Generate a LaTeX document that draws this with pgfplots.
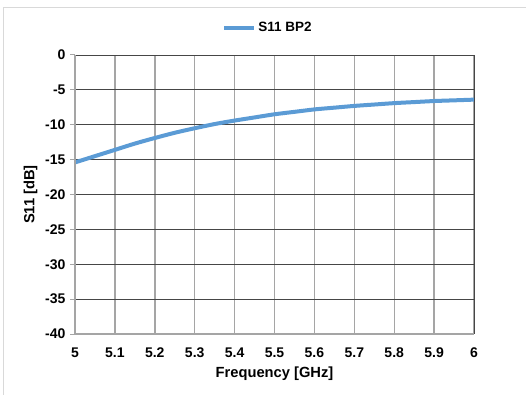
\documentclass[border=0pt]{standalone}
\usepackage{pgfplots}
\pgfplotsset{compat=1.18}
\usepackage{fontspec}
\setmainfont{Liberation Sans}[BoldFont={Liberation Sans Bold}]
\definecolor{curve}{RGB}{91,155,213}
\definecolor{vgrid}{RGB}{165,165,165}
\definecolor{hgrid}{RGB}{70,70,70}
\begin{document}
\begin{tikzpicture}[x=1pt,y=1pt]
\useasboundingbox (0,0) rectangle (526,-395);
\draw[black!15, line width=1pt] (3,-395) -- (3,-8) -- (526,-8);
\begin{axis}[
  at={(75pt,-334pt)}, anchor=south west,
  scale only axis, width=399pt, height=279pt,
  xmin=5, xmax=6, ymin=-40, ymax=0,
  xtick={5,5.1,5.2,5.3,5.4,5.5,5.6,5.7,5.8,5.9,6},
  xticklabels={5,5.1,5.2,5.3,5.4,5.5,5.6,5.7,5.8,5.9,6},
  ytick={-40,-35,-30,-25,-20,-15,-10,-5,0},
  yticklabels={-40,-35,-30,-25,-20,-15,-10,-5,0},
  grid=major,
  x grid style={vgrid, line width=1.4pt},
  y grid style={hgrid, line width=0.8pt},
  axis line style={draw=none},
  xtick style={draw=none},
  ytick style={vgrid, line width=1pt},
  ytick pos=left, tick align=outside, major tick length=5pt,
  ticklabel style={font=\fontsize{14}{16}\selectfont\bfseries},
  yticklabel style={xshift=-1pt},
  xticklabel style={yshift=-5pt},
  xlabel={Frequency [GHz]},
  ylabel={S11 [dB]},
  label style={font=\fontsize{14.7}{17}\selectfont\bfseries},
  xlabel style={yshift=-3pt},
  ylabel style={yshift=1pt},
  legend style={at={(axis description cs:0.484,1.097)}, anchor=center, draw=none, fill=none, font=\fontsize{13.5}{15}\selectfont\bfseries, inner sep=0pt},
  legend image code/.code={\draw[#1, line width=4pt] (0pt,0pt) -- (30pt,0pt);},
  clip=false,
]
\addplot[curve, line width=4pt, smooth] coordinates {
(5.0,-15.4) (5.05,-14.5) (5.1,-13.6) (5.15,-12.7) (5.2,-11.9) (5.25,-11.15) (5.3,-10.5)
(5.35,-9.9) (5.4,-9.4) (5.45,-8.95) (5.5,-8.5) (5.55,-8.15) (5.6,-7.8) (5.65,-7.55)
(5.7,-7.3) (5.75,-7.1) (5.8,-6.9) (5.85,-6.75) (5.9,-6.6) (5.95,-6.5) (6.0,-6.4)
};
\addlegendentry{S11 BP2}
\draw[hgrid, line width=0.8pt] (axis cs:5,0) -- (axis cs:6,0) -- (axis cs:6,-40);
\draw[vgrid, line width=1.4pt] (axis cs:5,0) -- (axis cs:5,-40) -- (axis cs:6,-40);
\end{axis}
\end{tikzpicture}
\end{document}
